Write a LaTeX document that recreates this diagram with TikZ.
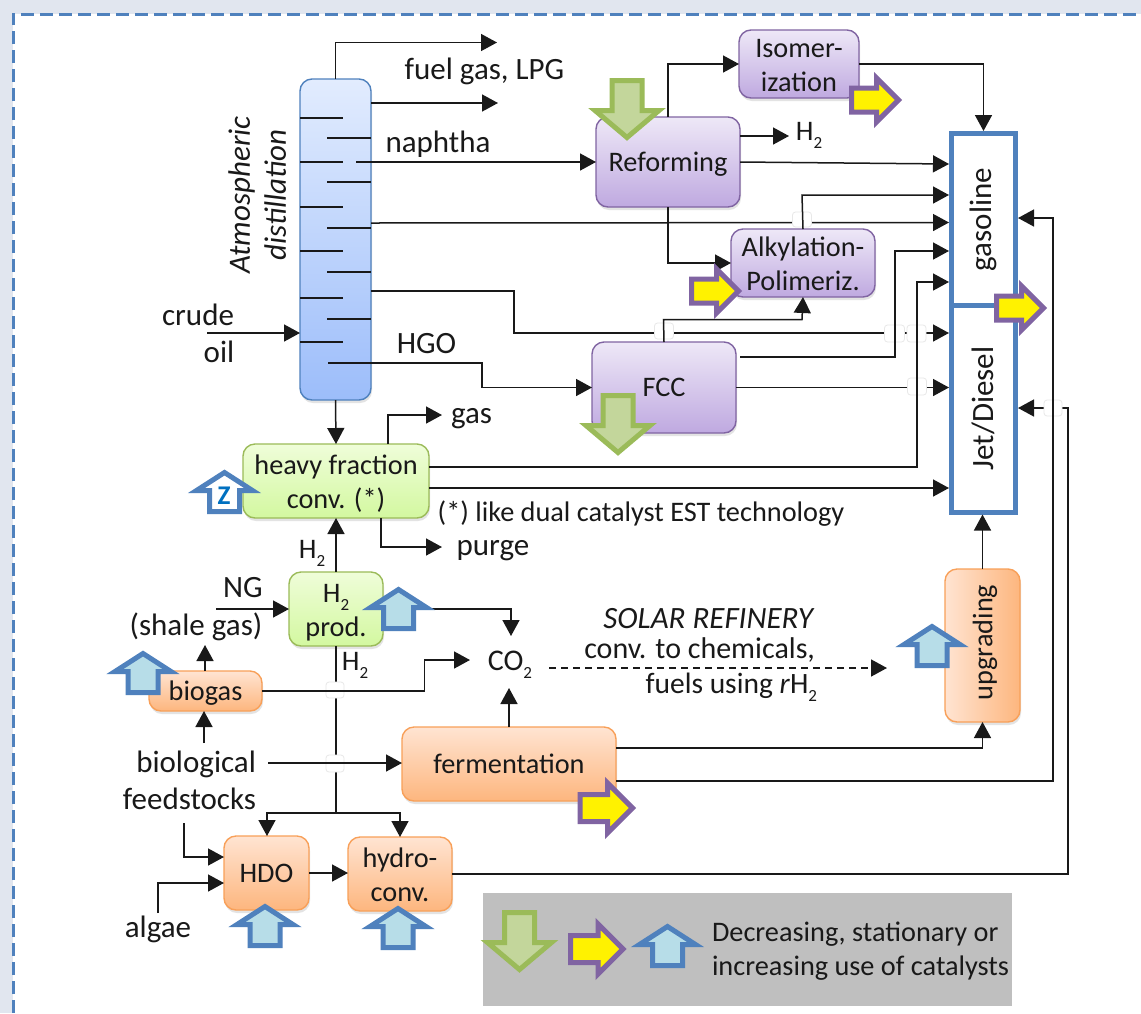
\documentclass[tikz,border=0pt]{standalone}
\usepackage{fontspec}
\setmainfont{Carlito}
\usetikzlibrary{arrows.meta,shadows,calc}
\definecolor{pagebg}{HTML}{E1E6EF}
\definecolor{bluebd}{HTML}{4F81BD}
\definecolor{greenbd}{HTML}{9BBB59}
\definecolor{purplebd}{HTML}{8064A2}
\definecolor{orangebd}{HTML}{F79646}
\definecolor{greenfill}{HTML}{C3D69B}
\definecolor{bluefill}{HTML}{B7DDE8}
\newcommand{\subtwo}{\raisebox{-8pt}[0pt][0pt]{\fontsize{17}{17}\selectfont 2}}
\newcommand{\upline}{\rule{0pt}{26pt}}
\newcommand{\catarrow}[7]{% style, x, y, angle, L, h, W
  \draw[#1,shift={(#2,#3)},rotate=#4] (-3.5,0) -- (-3.5-#6,-#7) -- (-3.5-#6,-15) -- (-3.5-#5,-15) -- (-3.5-#5,15) -- (-3.5-#6,15) -- (-3.5-#6,#7) -- cycle;}
\newcommand{\greendown}[2]{\catarrow{greenarrow}{#1}{#2}{-90}{57}{27}{32}}
\newcommand{\blueup}[2]{\catarrow{bluearrow}{#1}{#2}{90}{39}{18}{28}}
\newcommand{\yellowright}[2]{\draw[yellowarrow,shift={(#1,#2)}] (-3.5,0) -- (-25.5,-22) -- (-25.5,-12) -- (-50.5,-12) -- (-50.5,12) -- (-25.5,12) -- (-25.5,22) -- cycle;}
\newcommand{\yellowbig}[2]{\draw[yellowarrow,shift={(#1,#2)}] (-3.5,0) -- (-28.5,-25) -- (-28.5,-13.5) -- (-56,-13.5) -- (-56,13.5) -- (-28.5,13.5) -- (-28.5,25) -- cycle;}
\tikzset{
  x=1pt,y=-1pt,
  base/.style={inner sep=0pt,outer sep=0pt,font=\fontsize{28.3}{34}\selectfont,align=center},
  lift/.style={execute at begin node={\rule[-6pt]{0pt}{30pt}}},
  lab/.style={base,lift,text=black!90},
  biglab/.style={lab,font=\fontsize{31}{34}\selectfont},
  box/.style={base,lift,rounded corners=12pt,line width=1.4pt,text=black!90,
    drop shadow={opacity=0.22,shadow xshift=1pt,shadow yshift=-3pt}},
  purplebox/.style={box,draw=purplebd,top color=purple1,bottom color=purple2},
  greenbox/.style={box,draw=greenbd,top color=green1,bottom color=green2},
  orangebox/.style={box,draw=orangebd!90,top color=orange1,bottom color=orange2},
  towerbox/.style={box,draw=bluebd,top color=blue1,bottom color=blue2},
  fuelbox/.style={base,font=\fontsize{31}{34}\selectfont,draw=bluebd,line width=5pt,fill=white,outer sep=2.5pt,text=black!90},
  conn/.style={line width=1.5pt,draw=black!90,-{Triangle[length=16pt,width=17pt]},line join=miter},
  plain/.style={line width=1.5pt,draw=black!90},
  bridgebox/.style={draw=black!9,fill=white,rounded corners=3pt,line width=.8pt,inner sep=0pt},
  greenarrow/.style={draw=greenbd,fill=greenfill,line width=5pt},
  bluearrow/.style={draw=bluebd,fill=bluefill,line width=5pt},
  zarrow/.style={draw=bluebd,fill=white,line width=5pt},
  yellowarrow/.style={draw=purplebd,fill=yellow,line width=5pt},
}
\definecolor{purple1}{HTML}{EEE8F7}
\definecolor{purple2}{HTML}{BFA9E0}
\definecolor{green1}{HTML}{EFFDD9}
\definecolor{green2}{HTML}{D3F8A0}
\definecolor{orange1}{HTML}{FFE4D2}
\definecolor{orange2}{HTML}{FDB67E}
\definecolor{blue1}{HTML}{E2ECFE}
\definecolor{blue2}{HTML}{9CBDFA}
\begin{document}
\begin{tikzpicture}
\useasboundingbox (0,0) rectangle (1141,1013);
\fill[pagebg] (0,0) rectangle (1141,1013);
\fill[white] (13,14) rectangle (1141,1013);
\draw[bluebd,line width=3pt,dash pattern=on 13pt off 6pt] (13,1013) -- (13,14) -- (1141,14);
% boxes
\node[towerbox,minimum width=71pt,minimum height=321pt] (tower) at (335.5,239.5) {};
\node[purplebox,minimum width=120pt,minimum height=68pt] (iso) at (799,64) {\upline Isomer-\\ization};
\node[purplebox,minimum width=144pt,minimum height=90pt] (reform) at (668,162) {Reforming};
\node[purplebox,minimum width=144pt,minimum height=68pt] (alky) at (803,263) {\upline Alkylation-\\Polimeriz.};
\node[purplebox,minimum width=144pt,minimum height=91pt] (fcc) at (664,387.5) {FCC};
\node[greenbox,minimum width=186pt,minimum height=74pt] (heavy) at (336,481) {\upline heavy fraction\\conv. (*)};
\node[greenbox,minimum width=94pt,minimum height=74pt] (h2p) at (336,609) {\upline H\subtwo\\prod.};
\node[orangebox,minimum width=113pt,minimum height=40pt] (biogas) at (205.5,691) {biogas};
\node[orangebox,minimum width=214pt,minimum height=74pt] (ferm) at (509,764) {fermentation};
\node[orangebox,minimum width=85pt,minimum height=74pt] (hdo) at (266.5,873) {HDO};
\node[orangebox,minimum width=104pt,minimum height=74pt] (hydro) at (400,874) {\upline hydro-\\conv.};
\node[box,execute at begin node={},draw=orangebd!90,left color=orange1,right color=orange2,minimum width=75pt,minimum height=153pt] (upg) at (982.5,645.5) {\hspace*{5pt}\rotatebox{90}{upgrading}};
\node[fuelbox,minimum width=64pt,minimum height=172pt] (gasoline) at (983.5,219.5) {\rotatebox{90}{gasoline}};
\node[fuelbox,minimum width=64pt,minimum height=207pt] (jet) at (983.5,408.5) {\rotatebox{90}{Jet/Diesel}};
\fill[black!25] (482.5,893) rectangle (1012,1006);
% labels
\node[lab,rotate=90,font=\fontsize{31}{36}\itshape\selectfont] (tdist) at (260,195) {Atmospheric\\distillation};
\node[biglab] (tfuel) at (484.5,70) {fuel gas, LPG};
\node[biglab] (tnaph) at (438,143) {naphtha};
\node[biglab] (thgo) at (426.5,344) {HGO};
\node[biglab] (tcrude) at (198,316) {crude};
\node[biglab] (toil) at (219,353) {oil};
\node[biglab] (tgas) at (471.5,414) {gas};
\node[lab] (th2a) at (809,131) {H\subtwo};
\node[lab] (tnote) at (641,512) {(*) like dual catalyst EST technology};
\node[biglab] (tpurge) at (493,546) {purge};
\node[lab] (th2b) at (312,549) {H\subtwo};
\node[biglab] (tng) at (243,588) {NG};
\node[biglab] (tshale) at (196,626) {(shale gas)};
\node[lab] (th2c) at (355,661) {H\subtwo};
\node[lab,font=\fontsize{30}{34}\selectfont] (tco2) at (510,661) {CO\subtwo};
\node[biglab,anchor=east] (tbio) at (256,763) {biological};
\node[biglab,anchor=east] (tfeed) at (256,800) {feedstocks};
\node[biglab] (talgae) at (158,928) {algae};
\node[biglab,anchor=east] (tsolar) at (813,619) {\itshape SOLAR REFINERY};
\node[lab,font=\fontsize{30}{34}\selectfont,anchor=east] (tconv) at (815,649) {conv. to chemicals,};
\node[lab,font=\fontsize{29.5}{34}\selectfont,anchor=east] (tfuels) at (817,684) {fuels using \textit{r}H\subtwo};
\node[lab,anchor=west,align=left] (tleg) at (712,948) {\upline Decreasing, stationary or\\increasing use of catalysts};
% free ends
\coordinate (ctop) at (497,42.5);
\coordinate (cside) at (498,103);
\coordinate (ccrude) at (207,333);
\coordinate (cgas) at (442,415);
\coordinate (cpurge) at (442,547);
\coordinate (cng) at (216,609);
\coordinate (cshale) at (205,645);
\coordinate (cbioup) at (204,743);
\coordinate (cbiofe) at (268,763);
\coordinate (cfeed) at (184,823);
\coordinate (calg) at (158,913);
\coordinate (cco2a) at (470,660);
\coordinate (cco2b) at (511,636);
\coordinate (cco2c) at (509,688);
\coordinate (cdasha) at (549,668);
\coordinate (cdashb) at (887,668);
\coordinate (cjunc) at (336,813);
% trays
\foreach \yy in {118,162,207,251,298,342} \draw[plain] (300,\yy) -- (343,\yy);
\foreach \yy in {138,182,228,272,319} \draw[plain] (327,\yy) -- (371,\yy);
% connectors that pass under a bridge
\draw[conn] (tower.east |- 0,223) -- (gasoline.west |- 0,222.5);
\draw[conn] (tower.east |- 0,291) -| (514,333) -- (jet.west |- 0,333);
\draw[conn] (fcc.east) -- (jet.west |- fcc.east);
\draw[conn] (hydro.east) -- (1068,874) -- (1068,408) -- (jet.east |- 0,408);
\draw[plain] (h2p.south) -- (cjunc);
% bridges
\node[bridgebox,minimum width=19pt,minimum height=15pt] (b1) at (802,219.5) {};
\node[bridgebox,minimum width=19pt,minimum height=16pt] (b2) at (664,331) {};
\node[bridgebox,minimum width=20pt,minimum height=17pt] (b3) at (894.5,333.5) {};
\node[bridgebox,minimum width=19pt,minimum height=17pt] (b4) at (916.5,333.5) {};
\node[bridgebox,minimum width=19pt,minimum height=17pt] (b5) at (917,386.5) {};
\node[bridgebox,minimum width=18pt,minimum height=16pt] (b6) at (1053,408) {};
\node[bridgebox,minimum width=18pt,minimum height=16pt] (b7) at (335,690) {};
\node[bridgebox,minimum width=18pt,minimum height=17pt] (b8) at (335,763.5) {};
% other connectors
\draw[conn] (tower.north) -- (tower.north |- ctop) -- (ctop);
\draw[conn] (tower.east |- cside) -- (cside);
\draw[conn] (356,162) -- (reform.west |- 0,162);
\draw[conn] (328,363) -- (482,363) |- (fcc.west);
\draw[conn] (ccrude) -- (tower.west |- ccrude);
\draw[conn] (tower.south) -- (heavy.north);
\draw[conn] (388,444) -- (388,415) -- (cgas);
\draw[conn] (reform.north) |- (iso.west);
\draw[conn] (reform.east |- 0,136) -- (789,136);
\draw[conn] (reform.east) -- (gasoline.west |- 0,164);
\draw[conn] (iso.east) -| (gasoline.north);
\draw[conn] (alky.north) -- (802,195) -- (gasoline.west |- 0,195);
\draw[conn] (reform.south) |- (alky.west);
\draw[conn] (fcc.north) -- (663.5,319.5) -- (802,319.5) -- (alky.south);
\draw[conn] (740,357) -- (895,357) -- (895,251) -- (gasoline.west |- 0,251);
\draw[conn] (heavy.east |- 0,467) -- (917,467) -- (917,282) -- (gasoline.west |- 0,282);
\draw[conn] (heavy.east |- 0,488) -- (jet.west |- 0,488);
\draw[conn] (upg.north) -- (jet.south -| upg.north);
\draw[conn] (ferm.east |- 0,748) -| (upg.south);
\draw[conn] (ferm.east |- 0,781) -- (1053,781) -- (1053,218) -- (gasoline.east |- 0,218);
\draw[conn] (h2p.north) -- (heavy.south -| h2p.north);
\draw[conn] (381,518) -- (381,547) -- (cpurge);
\draw[conn] (cng) -- (h2p.west |- cng);
\draw[conn] (biogas.north -| cshale) -- (cshale);
\draw[conn] (cbioup) -- (biogas.south -| cbioup);
\draw[conn] (biogas.east) -- (424.5,691) -- (424.5,660) -- (cco2a);
\draw[conn] (h2p.east |- 0,609) -- (511,609) -- (cco2b);
\draw[conn] (ferm.north) -- (cco2c);
\draw[conn] (cbiofe) -- (ferm.west |- cbiofe);
\draw[conn] (cjunc) -- (267,813) -- (267,836);
\draw[conn] (cjunc) -- (400,813) -- (hydro.north);
\draw[conn] (cfeed) |- (hdo.west |- 0,857);
\draw[conn] (calg) |- (hdo.west |- 0,883);
\draw[conn] (hdo.east) -- (hydro.west |- hdo.east);
\draw[conn,dashed,dash pattern=on 7pt off 5pt] (cdasha) -- (cdashb);
% block arrows
\greendown{627}{141}
\greendown{618}{456}
\greendown{519.5}{973}
\yellowright{902}{100}
\yellowright{742}{291}
\yellowright{1047}{308}
\yellowbig{636}{808}
\yellowbig{626.5}{949}
\blueup{143}{650}
\blueup{398.5}{586}
\blueup{265}{903}
\blueup{398}{905}
\blueup{932}{623}
\blueup{667.5}{923}
\catarrow{zarrow}{224.5}{469}{90}{39}{18}{28}
\node[base,font=\fontsize{27}{27}\bfseries\selectfont,text={rgb,255:red,0;green,112;blue,192}] (tz) at (224,496) {Z};
\end{tikzpicture}
\end{document}
